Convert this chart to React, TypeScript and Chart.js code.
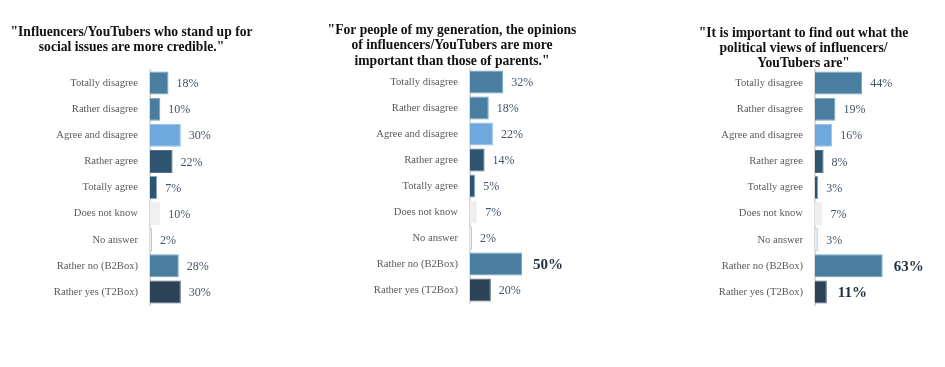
import React, { useEffect, useRef } from "react";
import { Chart, registerables } from "chart.js";

Chart.register(...registerables);

const categories = [
  "Totally disagree",
  "Rather disagree",
  "Agree and disagree",
  "Rather agree",
  "Totally agree",
  "Does not know",
  "No answer",
  "Rather no (B2Box)",
  "Rather yes (T2Box)",
];

const panel1Title = ['"Influencers/YouTubers who stand up for', 'social issues are more credible."'];
const panel1Values = [18, 10, 30, 22, 7, 10, 2, 28, 30];
const panel1Bold = [false, false, false, false, false, false, false, false, false];

const panel2Title = [
  '"For people of my generation, the opinions',
  "of influencers/YouTubers are more",
  'important than those of parents."',
];
const panel2Values = [32, 18, 22, 14, 5, 7, 2, 50, 20];
const panel2Bold = [false, false, false, false, false, false, false, true, false];

const panel3Title = [
  '"It is important to find out what the',
  "political views of influencers/",
  'YouTubers are"',
];
const panel3Values = [44, 19, 16, 8, 3, 7, 3, 63, 11];
const panel3Bold = [false, false, false, false, false, false, false, true, true];

const barColors = ["#4a7ea1", "#4a7ea1", "#6fa8dc", "#2f5470", "#2f5470", "#efefef", "#e4eef8", "#4a7ea1", "#2c4257"];
const barBorders = ["#76a4c4", "#76a4c4", "#94c0e8", "#51738d", "#7fa9c9", "#efefef", "#a9c8e4", "#76a4c4", "#4d6378"];

const FONT = "'Liberation Serif', 'Times New Roman', serif";

type PanelProps = {
  title: string[];
  values: number[];
  bold: boolean[];
  left: number;
  width: number;
  axisX: number;
  xMax: number;
  titleX: number;
  titleY: number[];
  areaTop: number;
  areaBottom: number;
};

const H = 367;

function Panel(p: PanelProps) {
  const ref = useRef<HTMLCanvasElement | null>(null);
  useEffect(() => {
    const canvas = ref.current!;
    const titlePlugin = {
      id: "panelTitle",
      afterDraw(chart: any) {
        const ctx = chart.ctx;
        ctx.save();
        ctx.font = `bold 13.6px ${FONT}`;
        ctx.fillStyle = "#111111";
        ctx.textAlign = "center";
        ctx.textBaseline = "middle";
        p.title.forEach((line, i) => {
          ctx.fillText(line, p.titleX - p.left, p.titleY[i]);
        });
        ctx.restore();
      },
    };
    const valuePlugin = {
      id: "valueLabels",
      afterDatasetsDraw(chart: any) {
        const ctx = chart.ctx;
        const meta = chart.getDatasetMeta(0);
        ctx.save();
        ctx.textAlign = "left";
        ctx.textBaseline = "middle";
        meta.data.forEach((el: any, i: number) => {
          const b = p.bold[i];
          ctx.font = b ? `bold 15px ${FONT}` : `12px ${FONT}`;
          ctx.fillStyle = b ? "#1f3042" : "#44546a";
          const base = chart.scales.x.getPixelForValue(0);
          const end = Math.max(el.x, base);
          ctx.fillText(p.values[i] + "%", end + (b ? 11 : 8), el.y + 1);
        });
        ctx.restore();
      },
    };
    const chart = new Chart(canvas, {
      type: "bar",
      data: {
        labels: categories,
        datasets: [
          {
            data: p.values,
            backgroundColor: barColors,
            borderColor: barBorders,
            borderWidth: 1,
            categoryPercentage: 1,
            barPercentage: 0.88,
          },
        ],
      },
      options: {
        indexAxis: "y",
        animation: false,
        responsive: false,
        devicePixelRatio: 1,
        layout: { padding: { top: p.areaTop, bottom: H - p.areaBottom, left: 0, right: 0 } },
        plugins: { legend: { display: false }, tooltip: { enabled: false }, title: { display: false } },
        scales: {
          x: { display: false, min: 0, max: p.xMax },
          y: {
            grid: { display: false },
            border: { display: true, color: "#dcdcdc", width: 2 },
            ticks: { color: "#5a5a5a", font: { family: FONT, size: 10.6 }, padding: 4 },
            afterFit: (scale: any) => {
              scale.width = p.axisX - p.left;
            },
          },
        },
      },
      plugins: [titlePlugin, valuePlugin],
    });
    return () => chart.destroy();
  }, []);
  return (
    <canvas
      ref={ref}
      width={p.width}
      height={H}
      style={{ position: "absolute", left: p.left, top: 0, width: p.width, height: H }}
    />
  );
}

export default function App() {
  return (
    <div style={{ position: "fixed", left: 0, top: 0, width: 945, height: 367, background: "#ffffff", overflow: "hidden" }}>
      <Panel
        title={panel1Title}
        values={panel1Values}
        bold={panel1Bold}
        left={0}
        width={300}
        axisX={150}
        xMax={146}
        titleX={131.5}
        titleY={[32, 47.5]}
        areaTop={70}
        areaBottom={305}
      />
      <Panel
        title={panel2Title}
        values={panel2Values}
        bold={panel2Bold}
        left={320}
        width={300}
        axisX={470}
        xMax={144}
        titleX={452}
        titleY={[30, 45.5, 61]}
        areaTop={69}
        areaBottom={303}
      />
      <Panel
        title={panel3Title}
        values={panel3Values}
        bold={panel3Bold}
        left={640}
        width={305}
        axisX={815}
        xMax={121}
        titleX={803.5}
        titleY={[33, 48, 63]}
        areaTop={70}
        areaBottom={305}
      />
    </div>
  );
}
